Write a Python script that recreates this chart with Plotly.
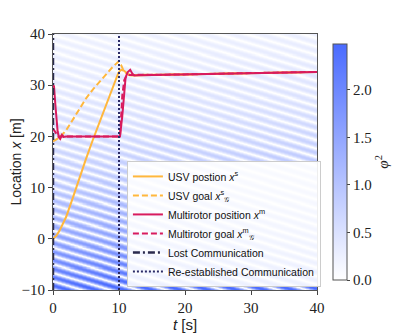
import numpy as np
import plotly.graph_objects as go

# --- trajectories ---
t_usv = [0, 0.5, 1, 1.5, 2, 3, 4, 5, 6, 7, 8, 9, 9.9, 10.3, 10.8, 11.5, 12, 15, 20, 25, 30, 35, 40]
x_usv = [0, 0.6, 1.6, 2.9, 4.3, 8.0, 12.0, 15.6, 19.2, 22.6, 26.0, 29.4, 32.4, 33.0, 32.8, 32.0, 31.9,
         32.0, 32.1, 32.25, 32.35, 32.45, 32.6]

t_usv_goal = [0, 1, 2, 3, 4, 5, 6, 7, 8, 9, 9.9, 10.3, 10.7, 11.2, 12, 15, 20, 25, 30, 35, 40]
x_usv_goal = [19.0, 19.8, 21.2, 23.3, 25.5, 27.4, 29.1, 30.6, 32.1, 33.5, 34.6, 34.0, 32.8, 32.2, 32.0,
              32.0, 32.1, 32.25, 32.35, 32.45, 32.6]

t_mr = [0, 0.15, 0.4, 0.7, 0.9, 1.1, 1.35, 1.6, 2, 5, 10.15, 10.5, 10.8, 11.0, 11.3, 11.7, 12.0, 12.3,
        13, 15, 20, 25, 30, 35, 40]
x_mr = [30.0, 29.8, 25.5, 21.0, 19.8, 19.5, 20.3, 19.9, 20.0, 20.0, 20.0, 24.0, 28.5, 31.5, 32.5, 33.0,
        32.3, 31.9, 31.95, 32.0, 32.1, 32.25, 32.35, 32.45, 32.6]

t_mr_goal = [0, 0.4, 0.8, 2, 5, 10.15, 10.5, 10.8, 11.2, 12, 15, 20, 25, 30, 35, 40]
x_mr_goal = [21.5, 20.7, 20.0, 20.0, 20.0, 20.0, 28.0, 31.0, 32.0, 32.0, 32.0, 32.1, 32.25, 32.35,
             32.45, 32.6]

t_lost = 0
t_back = 10

# --- wave field (phi^2) parameters ---
PHI2_PEAK = 2.48
PHI2_DECAY = 21.0      # m, fall-off of amplitude going up
PHI2_GROWTH = 0.10     # amplitude band drifts up with time
STRIPE_PERIOD = 1.66   # m, vertical spacing of stripes
STRIPE_SLOPE = 0.39    # stripes fall this much per second

t_grid = np.arange(0, 40.01, 0.2)
y_grid = np.arange(-10, 40.01, 0.1)
T, Y = np.meshgrid(t_grid, y_grid)
amp = PHI2_PEAK * np.exp(-(Y + 10 - PHI2_GROWTH * T) / PHI2_DECAY)
wave = np.abs(np.sin(np.pi * (Y + STRIPE_SLOPE * T) / STRIPE_PERIOD)) ** 1.3
phi2 = np.round(np.minimum(amp, PHI2_PEAK) * wave, 3)

ORANGE = '#ffb73d'
CRIMSON = '#d81b5e'
NAVY = '#2a2a4e'
NAVY2 = '#2b2b66'
SERIF = 'Liberation Serif'
SANS = 'Liberation Sans'

fig = go.Figure()
fig.add_trace(go.Heatmap(
    x=t_grid, y=y_grid, z=phi2, zmin=0, zmax=PHI2_PEAK, zsmooth='best',
    colorscale=[[0, '#ffffff'], [1, '#4a6bff']], showscale=True, showlegend=False,
    hoverinfo='skip',
    colorbar=dict(x=1.06, xanchor='left', xpad=0, y=0.5, len=1, thickness=14,
                  outlinecolor='#555', outlinewidth=1, ticks='outside', ticklen=3,
                  tickcolor='#444', tickvals=[0, 0.5, 1, 1.5, 2], tickformat='.1f',
                  tickfont=dict(family=SERIF, size=15, color='#222'))))

fig.add_trace(go.Scatter(x=t_usv, y=x_usv, mode='lines', name='USV postion <i>x</i><sup>s</sup>',
                         line=dict(color=ORANGE, width=2)))
fig.add_trace(go.Scatter(x=t_usv_goal, y=x_usv_goal, mode='lines',
                         name='USV goal <i>x</i><sup>s</sup><sub>𝒢</sub>',
                         line=dict(color=ORANGE, width=2, dash='6px,3px')))
fig.add_trace(go.Scatter(x=t_mr, y=x_mr, mode='lines', name='Multirotor position <i>x</i><sup>m</sup>',
                         line=dict(color=CRIMSON, width=2)))
fig.add_trace(go.Scatter(x=t_mr_goal, y=x_mr_goal, mode='lines',
                         name='Multirotor goal <i>x</i><sup>m</sup><sub>𝒢</sub>',
                         line=dict(color=CRIMSON, width=2, dash='6px,3px')))
fig.add_trace(go.Scatter(x=[t_lost, t_lost], y=[-10, 40], mode='lines', name='Lost Communication',
                         line=dict(color=NAVY, width=2.5, dash='7px,3px,2px,3px')))
fig.add_trace(go.Scatter(x=[t_back, t_back], y=[-10, 40], mode='lines',
                         name='Re-established Communication',
                         line=dict(color=NAVY2, width=2, dash='2px,2px')))

axis_common = dict(showgrid=False, zeroline=False, showline=True, mirror=True, linecolor='#555',
                   linewidth=1, ticks='outside', ticklen=4, tickcolor='#444', automargin=False,
                   tickfont=dict(family=SERIF, size=15, color='#222'))
fig.update_xaxes(range=[0, 40], tickvals=[0, 10, 20, 30, 40],
                 title=dict(text='<i>t</i> [s]', font=dict(family=SANS, size=15, color='#222'),
                            standoff=4), **axis_common)
fig.update_yaxes(range=[-10, 40], tickvals=[-10, 0, 10, 20, 30, 40],
                 title=dict(text='Location <i>x</i> [m]', font=dict(family=SANS, size=14, color='#222'),
                            standoff=6), **axis_common)

# colorbar label placed like the reference (further right than plotly's own title)
fig.add_annotation(text='<i>φ</i><sup>2</sup>', xref='paper', yref='paper', x=1.245, y=0.5,
                   xanchor='center', yanchor='middle', textangle=-90, showarrow=False,
                   font=dict(family=SERIF, size=15, color='#222'))

# page body adds an 8px offset, so the figure is sized 8px smaller on each axis
fig.update_layout(
    width=411, height=326, margin=dict(l=45, r=102, t=26, b=44, autoexpand=False),
    plot_bgcolor='white', paper_bgcolor='white',
    font=dict(family=SERIF),
    legend=dict(x=0.28, xanchor='left', y=0.012, yanchor='bottom', bgcolor='rgba(255,255,255,0.9)',
                bordercolor='#cccccc', borderwidth=1, itemwidth=30,
                font=dict(family=SANS, size=10.5, color='#111')),
)

fig.write_html("out.html")
